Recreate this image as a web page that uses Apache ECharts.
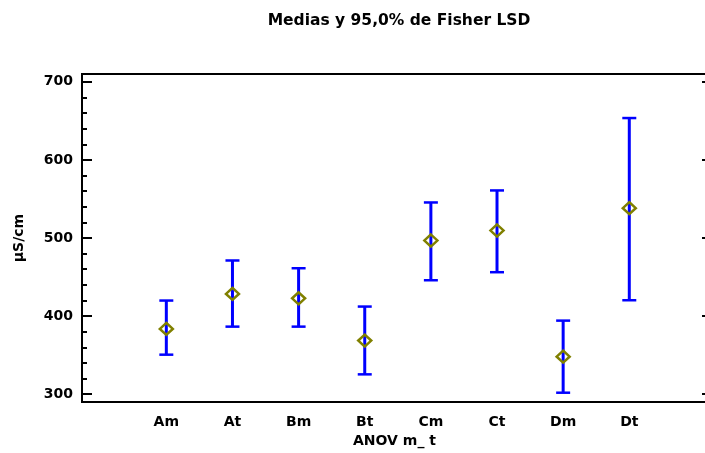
<!DOCTYPE html>
<html>
<head>
<meta charset="utf-8">
<script src="https://cdn.jsdelivr.net/npm/echarts@6/dist/echarts.min.js"></script>
<style>html,body{margin:0;padding:0;background:#fff;overflow:hidden}#c{width:712px;height:453px}</style>
</head>
<body>
<div id="c"></div>
<script>
const categories = ['Am', 'At', 'Bm', 'Bt', 'Cm', 'Ct', 'Dm', 'Dt'];
const means = [383.6, 428.4, 422.8, 368.6, 496.8, 509.6, 348.1, 538.2];
const lower = [350.6, 386.5, 386.5, 325.4, 445.9, 456.2, 301.9, 420.3];
const upper = [419.9, 471.2, 461.3, 412.2, 545.5, 560.9, 394.2, 653.6];
const yMajorTicks = [300, 400, 500, 600, 700];
const yMinorTicks = [320, 340, 360, 380, 420, 440, 460, 480, 520, 540, 560, 580, 620, 640, 660, 680];

const FONT = 'DejaVu Sans';
const xPos = categories.map((c, i) => i + 1);
const barData = categories.map((c, i) => [xPos[i], lower[i], upper[i]]);
const meanData = categories.map((c, i) => [xPos[i], means[i]]);

const chart = echarts.init(document.getElementById('c'), null, {renderer: 'canvas'});
const yBase = {
  type: 'value', min: 290, max: 710, scale: false,
  splitLine: {show: false}
};
chart.setOption({
  animation: false,
  backgroundColor: '#fff',
  title: {
    text: 'Medias y 95,0% de Fisher LSD',
    left: 394, top: 8, textAlign: 'center',
    textStyle: {fontFamily: FONT, fontWeight: 'bold', fontSize: 15.5, color: '#000'}
  },
  grid: {left: 82, right: 5, top: 74, bottom: 51, show: true, borderColor: '#000', borderWidth: 2, containLabel: false},
  xAxis: {
    type: 'value', min: -0.275, max: 9.175,
    name: 'ANOV m_ t', nameLocation: 'middle', nameGap: 32,
    nameTextStyle: {fontFamily: FONT, fontWeight: 'bold', fontSize: 14, color: '#000'},
    axisLine: {show: true, onZero: false, lineStyle: {color: '#000', width: 2}},
    axisTick: {show: false},
    splitLine: {show: false},
    axisLabel: {
      customValues: xPos, margin: 13,
      fontFamily: FONT, fontWeight: 'bold', fontSize: 14, color: '#000',
      formatter: v => categories[Math.round(v) - 1] || ''
    }
  },
  yAxis: [
    Object.assign({}, yBase, {
      position: 'left',
      name: 'µS/cm', nameLocation: 'middle', nameGap: 56, nameRotate: 90,
      nameTextStyle: {fontFamily: FONT, fontWeight: 'bold', fontSize: 14, color: '#000'},
      axisLine: {show: true, onZero: false, lineStyle: {color: '#000', width: 2}},
      axisTick: {show: true, inside: true, length: 10, customValues: yMajorTicks, lineStyle: {color: '#000', width: 2}},
      axisLabel: {customValues: yMajorTicks, margin: 9, fontFamily: FONT, fontWeight: 'bold', fontSize: 14, color: '#000'}
    }),
    Object.assign({}, yBase, {
      position: 'left',
      axisLine: {show: false, onZero: false},
      axisTick: {show: true, inside: true, length: 5, customValues: yMinorTicks, lineStyle: {color: '#000', width: 2}},
      axisLabel: {show: false}
    }),
    Object.assign({}, yBase, {
      position: 'right',
      axisLine: {show: true, onZero: false, lineStyle: {color: '#000', width: 2}},
      axisTick: {show: true, inside: true, length: 5, customValues: yMajorTicks, lineStyle: {color: '#000', width: 2}},
      axisLabel: {show: false}
    })
  ],
  series: [
    {
      type: 'custom',
      data: barData,
      encode: {x: 0, y: [1, 2]},
      renderItem: function (params, api) {
        const x = api.value(0);
        const lo = api.coord([x, api.value(1)]);
        const hi = api.coord([x, api.value(2)]);
        const hw = 7;
        const st = {stroke: '#0000ff', lineWidth: 2.5};
        return {
          type: 'group',
          children: [
            {type: 'line', shape: {x1: lo[0], y1: lo[1], x2: hi[0], y2: hi[1]}, style: {stroke: '#0000ff', lineWidth: 3}},
            {type: 'line', shape: {x1: lo[0] - hw, y1: lo[1], x2: lo[0] + hw, y2: lo[1]}, style: st},
            {type: 'line', shape: {x1: hi[0] - hw, y1: hi[1], x2: hi[0] + hw, y2: hi[1]}, style: st}
          ]
        };
      },
      z: 2
    },
    {
      type: 'scatter',
      data: meanData,
      symbol: 'diamond',
      symbolSize: [13, 12],
      itemStyle: {color: 'transparent', borderColor: '#808000', borderWidth: 2.5, opacity: 1},
      z: 3
    }
  ]
});
</script>
</body>
</html>
